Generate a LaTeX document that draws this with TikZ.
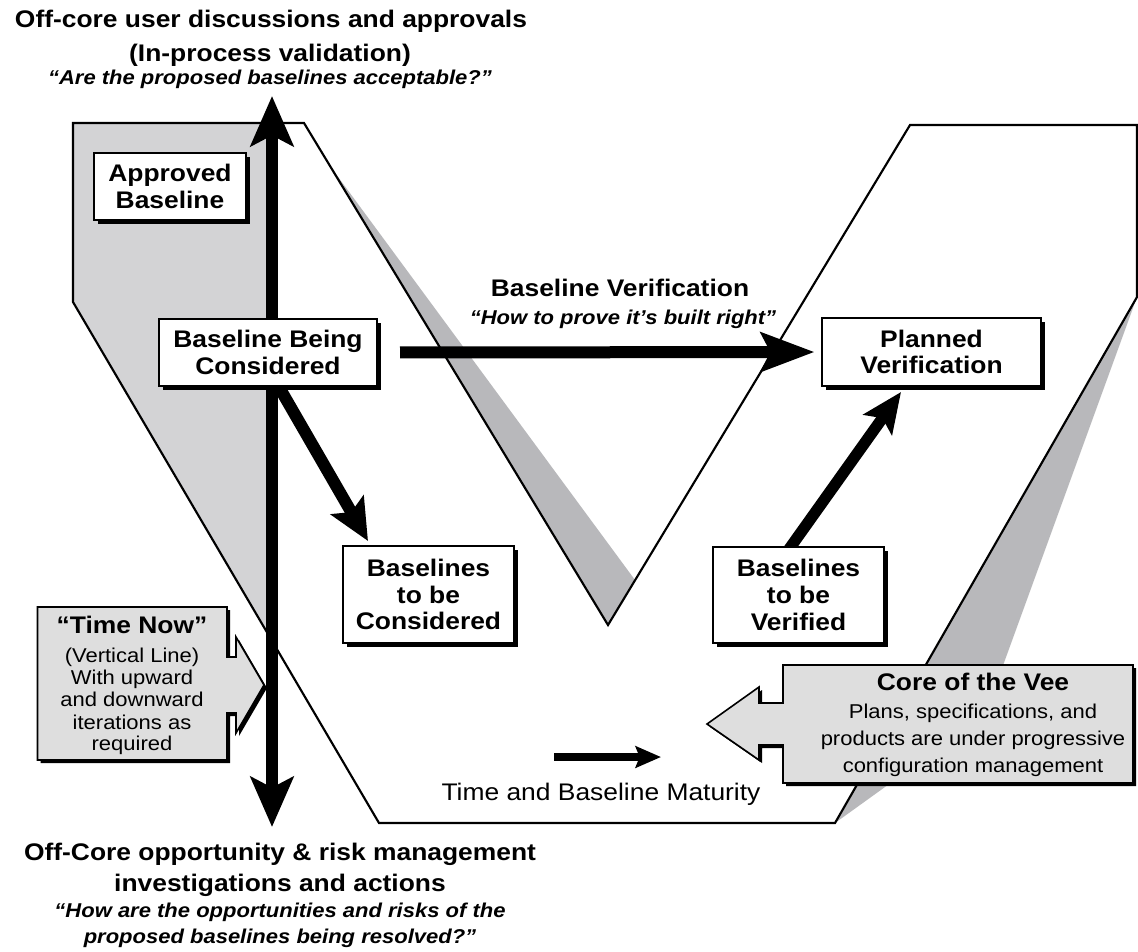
\documentclass[tikz,border=0pt]{standalone}
\usepackage{fontspec}
\setmainfont{Liberation Sans}[FakeStretch=1.1]
\usetikzlibrary{arrows.meta,shadows}
\definecolor{pastgray}{RGB}{211,211,213}
\definecolor{wedgegray}{RGB}{184,184,187}
\definecolor{calloutgray}{RGB}{222,222,222}
\begin{document}
\begin{tikzpicture}[x=0.75pt,y=-0.75pt,
  boxlbl/.style={draw=black, line width=1.5pt, fill=white, align=center, inner sep=0pt,
    font=\bfseries\fontsize{18}{20}\selectfont,
    drop shadow={shadow xshift=3pt, shadow yshift=-3pt, fill=black, opacity=1}},
  boldtxt/.style={inner sep=0pt, anchor=base, font=\bfseries\fontsize{18}{20}\selectfont},
  quotetxt/.style={inner sep=0pt, anchor=base, font=\bfseries\itshape\fontsize{15}{17}\selectfont},
  plaintxt/.style={inner sep=0pt, anchor=base, font=\fontsize{15}{17}\selectfont},
  bigplain/.style={inner sep=0pt, anchor=base, font=\fontsize{18}{20}\selectfont},
  veeline/.style={draw=black, line width=1.6pt, line join=miter},
  fatarrow/.style={line width=9pt, -{Stealth[length=31pt,width=28pt,inset=6pt]}},
  callout/.style={fill=calloutgray, draw=black, line width=1.2pt},
]
\useasboundingbox (0,0) rectangle (1138,951);

% shaded areas of the Vee
\fill[pastgray] (73,123) -- (272,123) -- (272,641) -- (73,302) -- cycle;
\fill[wedgegray] (330,166) -- (635,580) -- (608,625) -- cycle;
\fill[wedgegray] (1137,297) -- (985,715) -- (835,823) -- cycle;

% outline of the Vee
\draw[veeline] (73,123) -- (304,123) -- (608,625) -- (910,125) -- (1137,125)
  -- (1137,297) -- (835,823) -- (379,823) -- (73,302) -- cycle;

% "time now" vertical line
\coordinate (nowtop) at (272,96);
\coordinate (nowbot) at (272,827);
\draw[line width=9pt,
  {Stealth[length=37.5pt,width=32pt,inset=8pt]}-{Stealth[length=37.5pt,width=32pt,inset=8pt]}]
  (nowtop) -- (nowbot);

% connectors starting under the boxes
\coordinate (d1s) at (275,380);
\coordinate (d1e) at (368,541);
\draw[fatarrow] (d1s) -- (d1e);
\coordinate (d2s) at (787,552);
\coordinate (d2e) at (901,392);
\draw[line width=8.5pt, -{Stealth[length=30pt,width=26pt,inset=6pt]}] (d2s) -- (d2e);

% baseline boxes
\node[boxlbl, minimum width=114pt, minimum height=50pt] (approved) at (170,186.5) {Approved\\Baseline};
\node[boxlbl, minimum width=163.5pt, minimum height=50pt] (being) at (268,352.5) {Baseline Being\\Considered};
\node[boxlbl, minimum width=128pt, minimum height=73pt] (tobecons) at (428.5,594.5) {Baselines\\to be\\Considered};
\node[boxlbl, minimum width=128pt, minimum height=72pt] (tobever) at (798.5,595) {Baselines\\to be\\Verified};
\node[boxlbl, minimum width=164pt, minimum height=51pt] (planned) at (931.5,352) {Planned\\Verification};

% baseline verification arrow
\draw[line width=9pt, -{Stealth[length=40pt,width=29pt,inset=7pt]}, shorten <=16.5pt, shorten >=5pt]
  (being.east) -- (planned.west);

% time and maturity arrow
\coordinate (tm1) at (554,757);
\coordinate (tm2) at (661,757);
\draw[line width=6pt, -{Stealth[length=19pt,width=16pt,inset=3pt]}] (tm1) -- (tm2);

% "time now" callout
\begin{scope}[shift={(3,3)}]
  \fill[black] (37.5,607) -- (227,607) -- (227,657) -- (236,657) -- (236,637) -- (264,685)
    -- (236,733) -- (236,713) -- (227,713) -- (227,760) -- (37.5,760) -- cycle;
\end{scope}
\draw[callout] (37.5,607) -- (227,607) -- (227,657) -- (236,657) -- (236,637) -- (264,685)
    -- (236,733) -- (236,713) -- (227,713) -- (227,760) -- (37.5,760) -- cycle;

% "core of the vee" callout
\begin{scope}[shift={(3,3)}]
  \fill[black] (1133,665) -- (783,665) -- (783,703) -- (759,703) -- (759,687) -- (707,724)
    -- (759,760) -- (759,745) -- (783,745) -- (783,783) -- (1133,783) -- cycle;
\end{scope}
\draw[callout] (1133,665) -- (783,665) -- (783,703) -- (759,703) -- (759,687) -- (707,724)
    -- (759,760) -- (759,745) -- (783,745) -- (783,783) -- (1133,783) -- cycle;

% top captions
\node[boldtxt] (top1) at (271,27.6) {Off-core user discussions and approvals};
\node[boldtxt] (top2) at (270,61.6) {(In-process validation)};
\node[quotetxt] (top3) at (270,84) {“Are the proposed baselines acceptable?”};

% bottom captions
\node[boldtxt] (bot1) at (280,860.6) {Off-Core opportunity \& risk management};
\node[boldtxt] (bot2) at (280,891) {investigations and actions};
\node[quotetxt] (bot3) at (280,917) {“How are the opportunities and risks of the};
\node[quotetxt] (bot4) at (280,943) {proposed baselines being resolved?”};

% verification label
\node[boldtxt] (verif1) at (620,296) {Baseline Verification};
\node[quotetxt] (verif2) at (623,324) {“How to prove it’s built right”};

% maturity label
\node[bigplain] (maturity) at (601,800) {Time and Baseline Maturity};

% "time now" text
\node[boldtxt] (tn0) at (132,633.6) {“Time Now”};
\node[plaintxt] (tn1) at (132,662) {(Vertical Line)};
\node[plaintxt] (tn2) at (132,684) {With upward};
\node[plaintxt] (tn3) at (132,706) {and downward};
\node[plaintxt] (tn4) at (132,729) {iterations as};
\node[plaintxt] (tn5) at (132,750) {required};

% "core of the vee" text
\node[boldtxt] (core0) at (973,690.6) {Core of the Vee};
\node[plaintxt] (core1) at (973,718) {Plans, specifications, and};
\node[plaintxt] (core2) at (973,745) {products are under progressive};
\node[plaintxt] (core3) at (973,772) {configuration management};
\end{tikzpicture}
\end{document}
